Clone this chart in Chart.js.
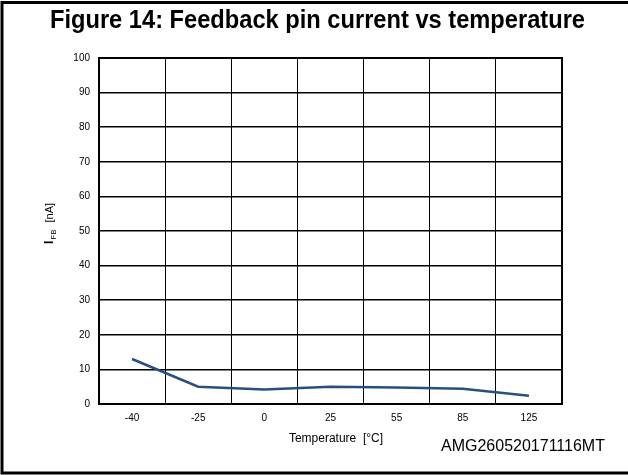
<!DOCTYPE html>
<html>
<head>
<meta charset="utf-8">
<script src="https://cdn.jsdelivr.net/npm/chart.js@4"></script>
<style>
  html, body { margin: 0; padding: 0; background: #fff; }
  #wrap { width: 628px; height: 475px; }
</style>
</head>
<body>
<div id="wrap"><canvas id="grafico" width="628" height="475"></canvas></div>
<script>
// datos
const temperaturas = ['-40', '-25', '0', '25', '55', '85', '125'];
const corrienteFB = [13, 5, 4.2, 5, 4.8, 4.4, 2.4];
const escalaY = { min: 0, max: 100, paso: 10 };

const titulo = 'Figure 14: Feedback pin current vs temperature';
const tituloX = 'Temperature  [°C]';
const codigo = 'AMG260520171116MT';

const fuente = '"Liberation Sans", Arial, sans-serif';

const marcoPlugin = {
  id: 'marco',
  afterDraw(chart) {
    const ctx = chart.ctx;
    const a = chart.chartArea;
    ctx.save();
    // borde del area del grafico
    ctx.strokeStyle = '#000';
    ctx.lineWidth = 2;
    ctx.strokeRect(a.left, a.top, a.right - a.left, a.bottom - a.top);

    // marco exterior
    ctx.lineWidth = 3;
    ctx.beginPath();
    ctx.moveTo(628, 2.5);
    ctx.lineTo(2, 2.5);
    ctx.lineTo(2, 473);
    ctx.lineTo(628, 473);
    ctx.stroke();

    // titulo (comprimido al ancho del original)
    ctx.fillStyle = '#000';
    ctx.font = 'bold 26px ' + fuente;
    ctx.textAlign = 'center';
    ctx.textBaseline = 'alphabetic';
    const w = ctx.measureText(titulo).width;
    const k = 535 / w;
    ctx.save();
    ctx.translate(317.5, 28);
    ctx.scale(k, 1);
    ctx.fillText(titulo, 0, 0);
    ctx.restore();

    // titulo eje x
    ctx.font = '12px ' + fuente;
    ctx.textBaseline = 'middle';
    ctx.fillText(tituloX, 336, 439);

    // codigo
    ctx.font = '16px ' + fuente;
    ctx.textAlign = 'left';
    ctx.fillText(codigo, 441, 447);

    // titulo eje y: I_FB [nA]
    ctx.save();
    ctx.translate(53, 244);
    ctx.rotate(-Math.PI / 2);
    ctx.textAlign = 'left';
    ctx.textBaseline = 'alphabetic';
    ctx.font = 'bold 12px ' + fuente;
    ctx.fillText('I', 0, 0);
    let x = ctx.measureText('I').width + 1;
    ctx.font = '8px ' + fuente;
    ctx.fillText('FB', x, 3);
    x += ctx.measureText('FB').width + 7;
    ctx.font = '11px ' + fuente;
    ctx.fillText('[nA]', x, 0);
    ctx.restore();

    ctx.restore();
  }
};

new Chart(document.getElementById('grafico'), {
  type: 'line',
  data: {
    labels: temperaturas,
    datasets: [{
      data: corrienteFB,
      borderColor: '#27507f',
      borderWidth: 2.5,
      pointRadius: 0,
      tension: 0,
      fill: false
    }]
  },
  options: {
    responsive: false,
    animation: false,
    devicePixelRatio: 1,
    layout: { padding: { left: 0, top: 58, right: 66, bottom: 0 } },
    plugins: { legend: { display: false }, tooltip: { enabled: false } },
    scales: {
      x: {
        type: 'category',
        offset: true,
        grid: { offset: true, color: '#000', lineWidth: 1, drawTicks: false },
        border: { display: false },
        ticks: { color: '#000', font: { size: 10, family: fuente }, padding: 8, maxRotation: 0 },
        afterFit(s) { s.height = 475 - 404; }
      },
      y: {
        min: escalaY.min,
        max: escalaY.max,
        grid: { color: '#000', lineWidth: 1.5, drawTicks: false },
        border: { display: false },
        ticks: { stepSize: escalaY.paso, color: '#000', font: { size: 10, family: fuente }, padding: 9 },
        afterFit(s) { s.width = 99; }
      }
    }
  },
  plugins: [marcoPlugin]
});
</script>
</body>
</html>
